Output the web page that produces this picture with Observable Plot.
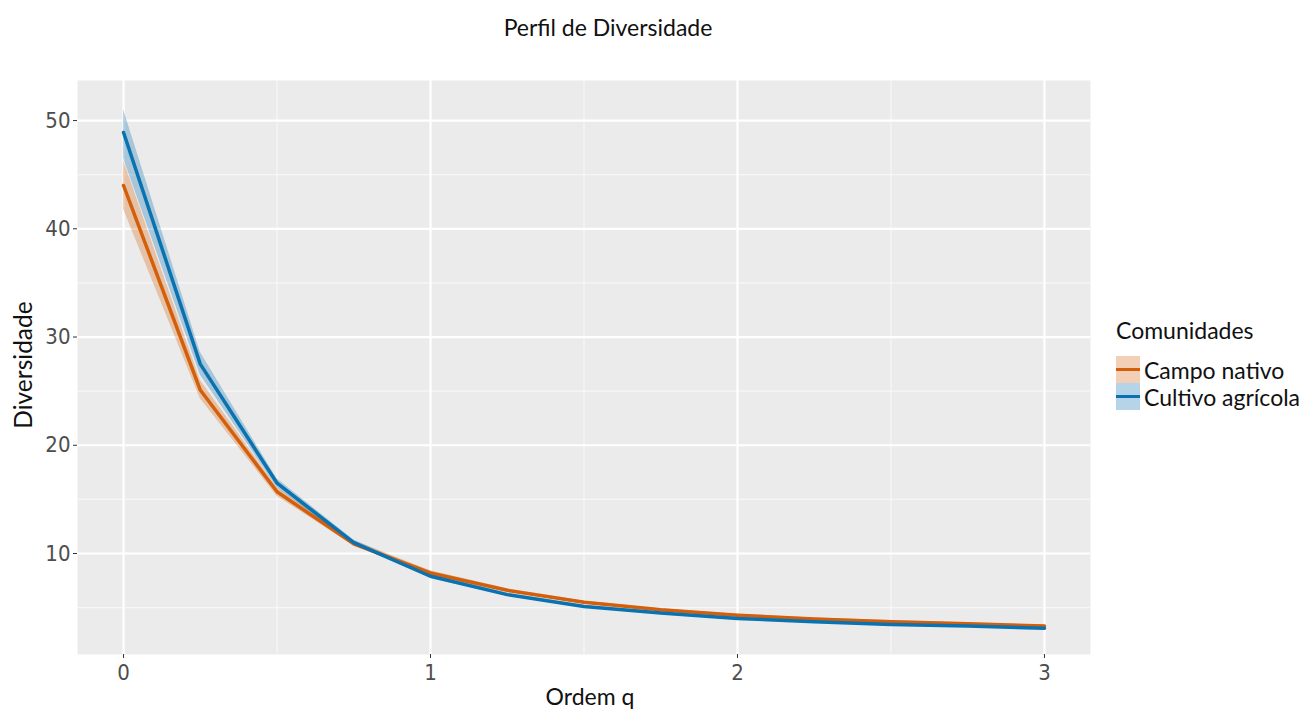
<!DOCTYPE html>
<html>
<head>
<meta charset="utf-8">
<script src="https://cdn.jsdelivr.net/npm/d3@7"></script>
<script src="https://cdn.jsdelivr.net/npm/@observablehq/plot@0.6"></script>
<style>
  html, body { margin: 0; padding: 0; background: #fff; }
  #wrap { position: relative; width: 1302px; height: 711px; overflow: hidden; }
  .t { position: absolute; font-family: Lato, "Open Sans", sans-serif; color: #111; white-space: nowrap; }
  #title { left: 0; width: 1216px; top: 13px; text-align: center; font-size: 23px; }
  #xlab { left: 77px; width: 1026px; top: 682px; text-align: center; font-size: 23px; }
  #ylab { left: 22px; top: 365px; font-size: 24.5px; transform: translate(-50%, -50%) rotate(-90deg); }
  #legend { position: absolute; left: 1116px; top: 316px; font-family: Lato, "Open Sans", sans-serif; }
  #legend .lt { font-size: 23px; color: #111; margin-bottom: 12px; }
  #legend .row { display: flex; align-items: center; height: 27px; font-size: 23px; color: #111; }
  #legend .key { width: 24px; height: 27px; position: relative; margin-right: 4px; }
  #legend .key span { position: absolute; left: 0; right: 0; top: 12px; height: 3px; }
</style>
</head>
<body>
<div id="wrap">
  <div id="chart"></div>
  <div class="t" id="title">Perfil de Diversidade</div>
  <div class="t" id="xlab">Ordem q</div>
  <div class="t" id="ylab">Diversidade</div>
  <div id="legend"></div>
</div>
<script>
const q = [0, 0.25, 0.5, 0.75, 1, 1.25, 1.5, 1.75, 2, 2.25, 2.5, 2.75, 3];
const seriesNames = ["Campo nativo", "Cultivo agrícola"];
const campoNativo = [44.0, 25.1, 15.7, 10.9, 8.2, 6.6, 5.5, 4.8, 4.3, 3.95, 3.7, 3.5, 3.3];
const campoLow    = [41.8, 24.3, 15.3, 10.7, 8.0, 6.45, 5.38, 4.7, 4.2, 3.85, 3.6, 3.4, 3.2];
const campoHigh   = [46.3, 26.0, 16.1, 11.2, 8.4, 6.75, 5.62, 4.9, 4.4, 4.05, 3.8, 3.6, 3.4];
const cultivo     = [48.9, 27.5, 16.5, 11.0, 7.9, 6.2, 5.1, 4.5, 4.0, 3.7, 3.45, 3.3, 3.1];
const cultivoLow  = [46.5, 26.5, 16.1, 10.8, 7.7, 6.05, 4.98, 4.4, 3.9, 3.6, 3.35, 3.2, 3.0];
const cultivoHigh = [51.0, 28.6, 16.9, 11.25, 8.1, 6.35, 5.22, 4.6, 4.1, 3.8, 3.55, 3.4, 3.2];
const yTicks = [10, 20, 30, 40, 50];
const yMinor = [5, 15, 25, 35, 45];
const xTicks = [0, 1, 2, 3];
const xMinor = [0.5, 1.5, 2.5];
const colors = ["#d35f0a", "#0a72b0"];

const data = [];
q.forEach((v, i) => {
  data.push({q: v, s: seriesNames[0], y: campoNativo[i], lo: campoLow[i], hi: campoHigh[i]});
  data.push({q: v, s: seriesNames[1], y: cultivo[i], lo: cultivoLow[i], hi: cultivoHigh[i]});
});

const chart = Plot.plot({
  width: 1302,
  height: 711,
  marginLeft: 77,
  marginRight: 212,
  marginTop: 80,
  marginBottom: 57,
  style: {background: "transparent", fontSize: "22px", fontFamily: "'Liberation Sans Narrow', 'DejaVu Sans Condensed', 'Roboto', sans-serif"},
  x: {domain: [-0.15, 3.15], ticks: xTicks},
  y: {domain: [0.67, 53.7], ticks: yTicks},
  color: {domain: seriesNames, range: colors},
  marks: [
    Plot.frame({fill: "#ebebeb", stroke: null}),
    Plot.gridY(yMinor, {stroke: "#f7f7f7", strokeOpacity: 1, strokeWidth: 1.2}),
    Plot.gridX(xMinor, {stroke: "#f7f7f7", strokeOpacity: 1, strokeWidth: 1.2}),
    Plot.gridY(yTicks, {stroke: "#ffffff", strokeOpacity: 1, strokeWidth: 2.2}),
    Plot.gridX(xTicks, {stroke: "#ffffff", strokeOpacity: 1, strokeWidth: 2.2}),
    Plot.areaY(data, {x: "q", y1: "lo", y2: "hi", z: "s", fill: "s", fillOpacity: 0.3}),
    Plot.line(data, {x: "q", y: "y", z: "s", stroke: "s", strokeWidth: 3.5}),
    Plot.axisY(yTicks, {tickSize: 4, tickPadding: 3, fontSize: 22, color: "#4d4d4d", stroke: "#333", label: null}),
    Plot.axisX(xTicks, {tickSize: 4, tickPadding: 6, fontSize: 22, color: "#4d4d4d", stroke: "#333", label: null, tickFormat: d3.format("d")})
  ]
});
document.getElementById("chart").appendChild(chart);

const legend = document.getElementById("legend");
const lt = document.createElement("div");
lt.className = "lt";
lt.textContent = "Comunidades";
legend.appendChild(lt);
seriesNames.forEach((name, i) => {
  const row = document.createElement("div");
  row.className = "row";
  const key = document.createElement("div");
  key.className = "key";
  key.style.background = d3.color(colors[i]).copy({opacity: 0.3}).formatRgb();
  const line = document.createElement("span");
  line.style.background = colors[i];
  key.appendChild(line);
  row.appendChild(key);
  const label = document.createElement("span");
  label.textContent = name;
  row.appendChild(label);
  legend.appendChild(row);
});
</script>
</body>
</html>
